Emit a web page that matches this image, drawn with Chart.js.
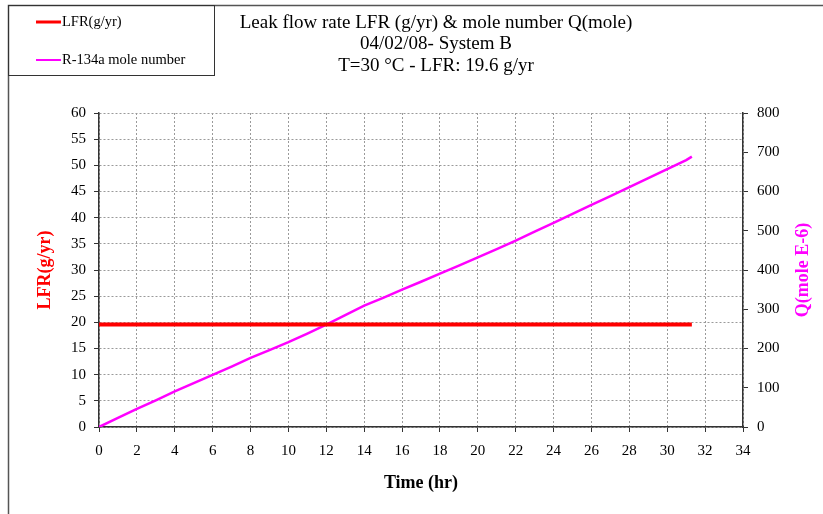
<!DOCTYPE html>
<html>
<head>
<meta charset="utf-8">
<title>Leak flow rate LFR &amp; mole number Q</title>
<script src="https://cdn.jsdelivr.net/npm/chart.js@4.4.1/dist/chart.umd.min.js"></script>
<style>
  html, body { margin: 0; padding: 0; background: #ffffff; }
  #wrap { width: 823px; height: 514px; position: relative; }
  canvas { display: block; }
</style>
</head>
<body>
<div id="wrap"><canvas id="chart" width="823" height="514"></canvas></div>
<script>
// Elapsed time of the test run (hr)
const timeHr = [0, 1, 2, 3, 4, 5, 6, 7, 8, 9, 10, 11, 12, 13, 14, 15, 16, 17, 18, 19, 20,
                21, 22, 23, 24, 25, 26, 27, 28, 29, 30, 31, 31.3];
// Leak flow rate, constant over the run (g/yr)
const lfrGyr = [19.6, 19.6, 19.6, 19.6, 19.6, 19.6, 19.6, 19.6, 19.6, 19.6, 19.6, 19.6, 19.6, 19.6, 19.6, 19.6, 19.6,
                19.6, 19.6, 19.6, 19.6, 19.6, 19.6, 19.6, 19.6, 19.6, 19.6, 19.6, 19.6, 19.6, 19.6, 19.6, 19.6];
// Accumulated R-134a mole number (mole E-6)
const moleQ = [0, 23, 46, 68, 91, 112, 133, 154, 176, 196, 216, 238, 261, 285, 309, 329, 350,
               370, 391, 411, 432, 453, 475, 498, 520, 543, 566, 588, 611, 634, 657, 680, 689];

const titleLines = ['Leak flow rate LFR (g/yr) & mole number Q(mole)', '04/02/08- System B', 'T=30 \u00B0C - LFR: 19.6 g/yr'];
const seriesNames = ['LFR(g/yr)', 'R-134a mole number'];
const xTitle = 'Time (hr)';
const leftTitle = 'LFR(g/yr)';
const rightTitle = 'Q(mole E-6)';

const SERIF = '"Liberation Serif", "Times New Roman", serif';
const RED = '#ff0000';
const MAGENTA = '#ff00ff';
const AXIS = '#333333';
const GRID = '#9a9a9a';

// Outer frame, title block, boxed legend and right-hand axis title
const decorations = {
  id: 'decorations',
  afterDraw(chart) {
    const ctx = chart.ctx;
    const area = chart.chartArea;
    ctx.save();

    // frame edges (left and top)
    ctx.strokeStyle = '#555555';
    ctx.lineWidth = 1.5;
    ctx.beginPath();
    ctx.moveTo(8.5, 514);
    ctx.lineTo(8.5, 5.5);
    ctx.lineTo(823, 5.5);
    ctx.stroke();

    // title
    ctx.fillStyle = '#000000';
    ctx.font = '19px ' + SERIF;
    ctx.textAlign = 'center';
    ctx.textBaseline = 'middle';
    titleLines.forEach((t, i) => ctx.fillText(t, 436, 23 + i * 21.5));

    // legend box
    ctx.strokeStyle = '#333333';
    ctx.lineWidth = 1;
    ctx.strokeRect(8.5, 5.5, 206, 70);
    const ds = chart.data.datasets;
    const rows = [22, 60];
    ctx.font = '14.5px ' + SERIF;
    ctx.textAlign = 'left';
    ds.forEach((d, i) => {
      ctx.strokeStyle = d.borderColor;
      ctx.lineWidth = i === 0 ? 3 : 2;
      ctx.beginPath();
      ctx.moveTo(36, rows[i]);
      ctx.lineTo(61, rows[i]);
      ctx.stroke();
      ctx.fillStyle = '#000000';
      ctx.fillText(d.label, 62, rows[i]);
    });

    // right axis title, reading bottom to top
    ctx.translate(803, (area.top + area.bottom) / 2);
    ctx.rotate(-Math.PI / 2);
    ctx.fillStyle = MAGENTA;
    ctx.font = 'bold 18px ' + SERIF;
    ctx.textAlign = 'center';
    ctx.textBaseline = 'middle';
    ctx.fillText(rightTitle, 0, 0);
    ctx.restore();
  }
};

new Chart(document.getElementById('chart'), {
  type: 'line',
  data: {
    labels: timeHr,
    datasets: [
      {
        label: seriesNames[0],
        data: timeHr.map((t, i) => ({ x: t, y: lfrGyr[i] })),
        borderColor: RED,
        backgroundColor: RED,
        borderWidth: 4,
        pointRadius: 0,
        tension: 0,
        yAxisID: 'y'
      },
      {
        label: seriesNames[1],
        data: timeHr.map((t, i) => ({ x: t, y: moleQ[i] })),
        borderColor: MAGENTA,
        backgroundColor: MAGENTA,
        borderWidth: 2.5,
        pointRadius: 0,
        tension: 0,
        yAxisID: 'y2'
      }
    ]
  },
  options: {
    responsive: false,
    devicePixelRatio: 1,
    animation: false,
    layout: { padding: { top: 113, left: 0, right: 0, bottom: 0 } },
    plugins: {
      legend: { display: false },
      title: { display: false },
      tooltip: { enabled: false }
    },
    scales: {
      x: {
        type: 'linear',
        min: 0,
        max: 34,
        afterFit: s => { s.height = 87; },
        ticks: { stepSize: 2, color: '#000000', font: { family: SERIF, size: 15 }, padding: 10, maxRotation: 0 },
        grid: { color: GRID, tickColor: AXIS, tickLength: 5, tickBorderDash: [] },
        border: { color: AXIS, width: 1.5, dash: [2, 2] },
        title: { display: true, text: xTitle, color: '#000000', font: { family: SERIF, size: 18, weight: 'bold' }, padding: { top: 0, bottom: 20 } }
      },
      y: {
        position: 'left',
        min: 0,
        max: 60,
        afterFit: s => { s.width = 99; },
        ticks: { stepSize: 5, color: '#000000', font: { family: SERIF, size: 15 }, padding: 8 },
        grid: { color: GRID, tickColor: AXIS, tickLength: 5, tickBorderDash: [] },
        border: { color: AXIS, width: 1.5, dash: [2, 2] },
        title: { display: true, text: leftTitle, color: RED, font: { family: SERIF, size: 18, weight: 'bold' }, padding: { top: 35, bottom: 0 } }
      },
      y2: {
        position: 'right',
        min: 0,
        max: 800,
        afterFit: s => { s.width = 80; },
        ticks: { stepSize: 100, color: '#000000', font: { family: SERIF, size: 15 }, padding: 9 },
        grid: { drawOnChartArea: false, color: AXIS, tickColor: AXIS, tickLength: 5 },
        border: { color: AXIS, width: 1.5 },
        title: { display: false }
      }
    }
  },
  plugins: [decorations]
});
</script>
</body>
</html>
